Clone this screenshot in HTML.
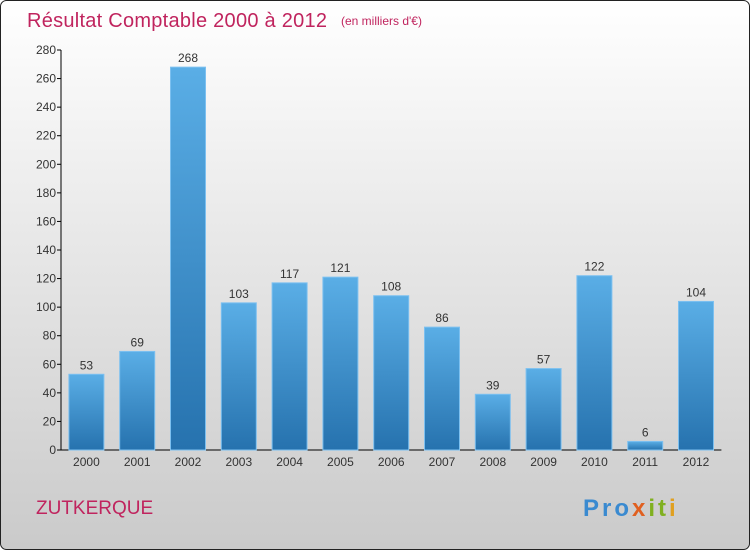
<!DOCTYPE html>
<html><head><meta charset="utf-8"><style>
body{margin:0;}
#c{width:750px;height:550px;position:relative;overflow:hidden;}
</style></head><body>
<div id="c">
<svg width="750" height="550" xmlns="http://www.w3.org/2000/svg" font-family="Liberation Sans, sans-serif">
<defs>
<linearGradient id="bg" x1="0" y1="0" x2="0" y2="1"><stop offset="0" stop-color="#ffffff"/><stop offset="1" stop-color="#cacaca"/></linearGradient>
<linearGradient id="bar" x1="0" y1="0" x2="0" y2="1"><stop offset="0" stop-color="#5aaee6"/><stop offset="1" stop-color="#2672ae"/></linearGradient>
</defs>
<rect x="0.5" y="0.5" width="749" height="549" rx="6" fill="url(#bg)" stroke="#222"/>
<text x="27" y="27" font-size="20" fill="#c0245e" textLength="300">Résultat Comptable 2000 à 2012</text>
<text x="341" y="25" font-size="12" fill="#c0245e">(en milliers d'€)</text>
<text x="36" y="514" font-size="19" fill="#c0245e">ZUTKERQUE</text>
<text x="583" y="516" font-size="24" font-weight="bold" letter-spacing="3"><tspan fill="#3a8ad0">Pro</tspan><tspan fill="#e06020">x</tspan><tspan fill="#80b020">it</tspan><tspan fill="#e0a020">i</tspan></text>
<g id="plot"></g>
</svg>
</div>
<script>
const years=['2000','2001','2002','2003','2004','2005','2006','2007','2008','2009','2010','2011','2012'];
const values=[53,69,268,103,117,121,108,86,39,57,122,6,104];
const ticks=[0,20,40,60,80,100,120,140,160,180,200,220,240,260,280];
const ns='http://www.w3.org/2000/svg';
const g=document.getElementById('plot');
const x0=61,slot=50.8,bw=35,y0=450,ymax=280,ph=400;
const y=v=>y0-v/ymax*ph;
function mk(t,a){const e=document.createElementNS(ns,t);for(const k in a)e.setAttribute(k,a[k]);g.appendChild(e);return e;}
const ax=mk('line',{x1:x0,y1:y(280),x2:x0,y2:y0,stroke:'#000'});


const bx=mk('line',{x1:x0,y1:y0,x2:x0+slot*years.length,y2:y0,stroke:'#000'});


ticks.forEach(t=>{
 const l=mk('line',{x1:x0-4,x2:x0,y1:y(t),y2:y(t),stroke:'#000'});
 
 
 const tx=mk('text',{x:x0-5,y:y(t)+4,'font-size':12,'text-anchor':'end',fill:'#333'});
 tx.textContent=t;
 
 
});
years.forEach((yr,i)=>{
 const cx=x0+slot*(i+0.5),v=values[i];
 const r=mk('rect',{x:cx-bw/2,y:y(v),width:bw,height:y0-y(v),fill:'url(#bar)',stroke:'#7cc0f0','stroke-width':1});
 
 
 const lb=mk('text',{x:cx,y:y(v)-5,'font-size':12,'text-anchor':'middle',fill:'#333'});
 lb.textContent=v;
 
 
 const xl=mk('text',{x:cx,y:y0+16,'font-size':12,'text-anchor':'middle',fill:'#333'});
 xl.textContent=yr;
 
 
});
</script>
</body></html>
